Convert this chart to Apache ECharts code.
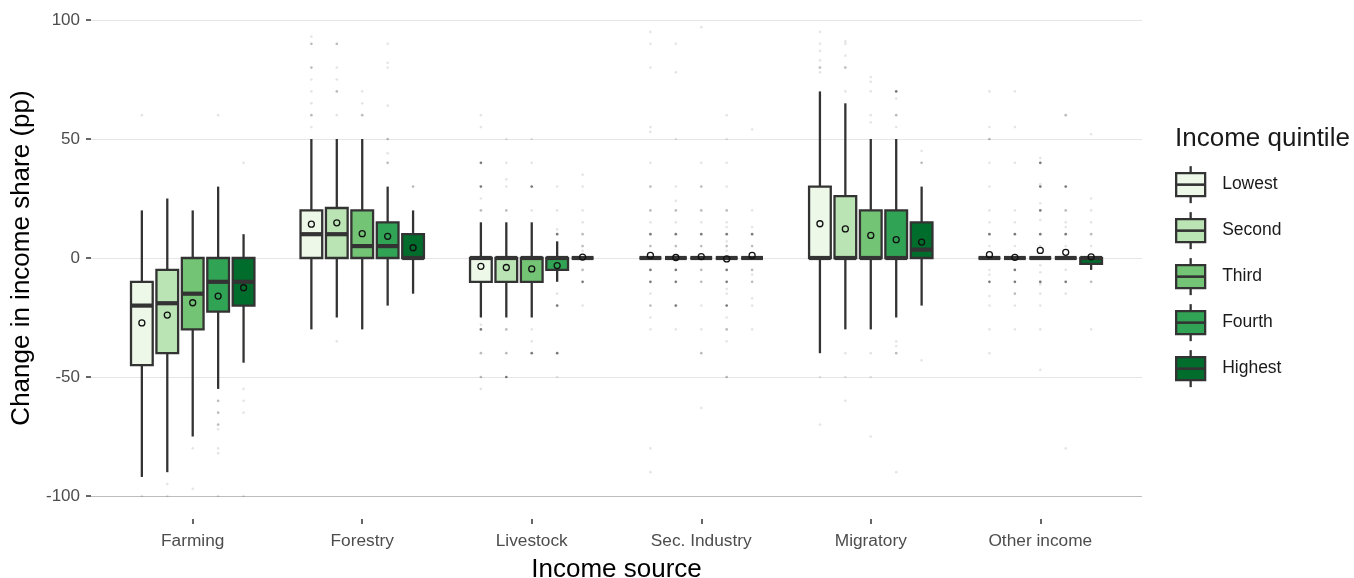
<!DOCTYPE html>
<html>
<head>
<meta charset="utf-8">
<script src="https://cdn.jsdelivr.net/npm/echarts@6/dist/echarts.min.js"></script>
<style>html,body{margin:0;padding:0;background:#fff}#c{width:1354px;height:578px}</style>
</head>
<body>
<div id="c"></div>
<script>
// ---- data ----
const categories = ['Farming', 'Forestry', 'Livestock', 'Sec. Industry', 'Migratory', 'Other income'];
const quintiles = ['Lowest', 'Second', 'Third', 'Fourth', 'Highest'];
const colors = ['#edf8e9', '#bae4b3', '#74c476', '#31a354', '#006d2c'];
const yMajorTicks = [-100, -50, 0, 50, 100];

// per category: [lowerWhisker, q1, median, q3, upperWhisker, mean]
const lowest = [
  [-92, -45, -20, -10, 20, -27.3],
  [-30, 0, 10, 20, 50, 14.2],
  [-25, -10, 0, 0, 15, -3.5],
  [0, 0, 0, 0, 0, 1.1],
  [-40, 0, 0, 30, 70, 14.4],
  [0, 0, 0, 0, 0, 1.4]
];
const second = [
  [-90, -40, -19, -5, 25, -24],
  [-25, 0, 10, 21, 50, 14.8],
  [-25, -10, 0, 0, 15, -4],
  [0, 0, 0, 0, 0, 0.2],
  [-30, 0, 0, 26, 65, 12.2],
  [0, 0, 0, 0, 0, 0.3]
];
const third = [
  [-75, -30, -15, 0, 20, -18.8],
  [-30, 0, 5, 20, 50, 10.2],
  [-25, -10, 0, 0, 15, -4.6],
  [0, 0, 0, 0, 0, 0.6],
  [-30, 0, 0, 20, 50, 9.5],
  [0, 0, 0, 0, 0, 3.2]
];
const fourth = [
  [-55, -22.5, -10, 0, 30, -16],
  [-20, 0, 5, 15, 30, 9.1],
  [-10, -5, 0, 0, 7, -3.2],
  [0, 0, 0, 0, 0, -0.4],
  [-25, 0, 0, 20, 50, 7.7],
  [0, 0, 0, 0, 0, 2.4]
];
const highest = [
  [-44, -20, -10, 0, 10, -12.5],
  [-15, 0, 0, 10, 20, 4.3],
  [0, 0, 0, 0, 0, 0.4],
  [0, 0, 0, 0, 0, 1.1],
  [-20, 0, 3.5, 15, 30, 6.7],
  [-5, -2.5, 0, 0, 0, 0.5]
];

// outliers per category: [quintileIndex, value, density(1 faint .. 3 dark)]
const farmingOut = [
  [0,60,1],[0,-100,1],
  [1,-95,1],[1,-100,1],
  [2,-80,1],[2,-97,1],
  [3,60,1],[3,-60,2],[3,-65,2],[3,-70,2],[3,-72,1],[3,-80,1],[3,-82,1],[3,-100,1],
  [4,40,1],[4,-55,1],[4,-60,1],[4,-65,1],[4,-100,1]
];
const forestryOut = [
  [0,93,1],[0,90,2],[0,80,2],[0,75,1],[0,70,1],[0,65,1],[0,60,2],[0,55,1],
  [1,90,2],[1,80,1],[1,75,1],[1,70,2],[1,60,1],[1,-35,1],
  [2,70,1],[2,65,1],[2,60,2],
  [3,90,1],[3,82,1],[3,80,1],[3,64,1],[3,50,2],[3,44,1],[3,40,2],
  [4,30,2]
];
const livestockOut = [
  [0,60,1],[0,55,1],[0,40,3],[0,30,3],[0,25,1],[0,20,2],[0,-28,1],[0,-30,3],[0,-40,2],[0,-50,2],[0,-55,1],
  [1,50,1],[1,40,1],[1,33,1],[1,30,1],[1,20,2],[1,-30,2],[1,-40,2],[1,-50,3],
  [2,50,1],[2,40,1],[2,30,3],[2,20,1],[2,-30,1],[2,-35,1],[2,-40,3],
  [3,30,1],[3,20,1],[3,12,1],[3,10,3],[3,-15,1],[3,-20,3],[3,-40,3],[3,-50,1],
  [4,35,1],[4,30,1],[4,20,1],[4,15,1],[4,10,2],[4,5,2],[4,3,1],[4,-5,2],[4,-10,3],[4,-20,1]
];
const secIndustryOut = [
  [0,95,1],[0,90,1],[0,80,1],[0,55,1],[0,53,1],[0,40,1],[0,30,2],[0,20,2],[0,15,1],[0,10,3],[0,5,2],[0,-5,3],[0,-10,3],[0,-15,1],[0,-20,2],[0,-25,1],[0,-30,1],[0,-80,1],[0,-90,1],
  [1,90,1],[1,78,1],[1,50,1],[1,30,1],[1,24,1],[1,20,2],[1,15,1],[1,10,3],[1,5,2],[1,-5,3],[1,-10,3],[1,-20,3],[1,-30,1],
  [2,97,1],[2,40,1],[2,30,2],[2,20,2],[2,15,1],[2,10,3],[2,5,2],[2,-5,2],[2,-10,2],[2,-20,1],[2,-30,1],[2,-40,2],[2,-63,1],
  [3,60,1],[3,50,1],[3,40,1],[3,30,1],[3,20,2],[3,15,1],[3,13,1],[3,10,3],[3,7,1],[3,5,2],[3,3,1],[3,-5,3],[3,-10,3],[3,-13,1],[3,-15,1],[3,-20,3],[3,-25,1],[3,-30,2],[3,-35,1],[3,-50,2],
  [4,54,1],[4,20,1],[4,13,1],[4,10,3],[4,5,2],[4,-5,2],[4,-7,1],[4,-10,2],[4,-17,1],[4,-20,1],[4,-30,1]
];
const migratoryOut = [
  [0,95,1],[0,90,1],[0,87,1],[0,83,1],[0,80,2],[0,78,1],[0,-50,1],[0,-70,1],
  [1,91,1],[1,90,1],[1,85,1],[1,80,2],[1,70,1],[1,-40,1],[1,-50,1],[1,-60,1],
  [2,76,1],[2,74,1],[2,70,1],[2,60,1],[2,57,1],[2,-40,1],[2,-50,1],[2,-75,1],
  [3,70,3],[3,67,1],[3,60,2],[3,55,1],[3,-35,1],[3,-37,1],[3,-40,2],[3,-90,1],
  [4,45,1],[4,40,2],[4,-43,1]
];
const otherOut = [
  [0,70,1],[0,55,1],[0,50,2],[0,40,1],[0,30,1],[0,20,1],[0,15,1],[0,10,3],[0,5,1],[0,-5,1],[0,-7,1],[0,-10,3],[0,-16,1],[0,-20,1],[0,-30,1],[0,-40,1],
  [1,70,1],[1,55,1],[1,40,1],[1,20,1],[1,15,1],[1,10,3],[1,5,1],[1,-5,3],[1,-10,3],[1,-15,2],[1,-20,1],[1,-30,1],
  [2,42,1],[2,40,3],[2,31,1],[2,30,3],[2,23,1],[2,20,3],[2,16,1],[2,10,3],[2,5,1],[2,-3,1],[2,-6,1],[2,-10,3],[2,-11,1],[2,-15,1],[2,-20,1],[2,-30,1],[2,-47,1],
  [3,60,2],[3,30,3],[3,20,2],[3,15,1],[3,13,1],[3,10,3],[3,5,1],[3,-5,1],[3,-10,3],[3,-15,1],[3,-80,1],
  [4,52,1],[4,25,1],[4,20,1],[4,15,1],[4,10,2],[4,5,1],[4,-10,2],[4,-30,1]
];

// ---- build ----
const stats = [lowest, second, third, fourth, highest];
const outliers = [farmingOut, forestryOut, livestockOut, secIndustryOut, migratoryOut, otherOut];
const dodge = [-0.3, -0.15, 0, 0.15, 0.3];
const boxHalf = 0.064;
const FONT = '"Liberation Sans", Arial, sans-serif';
const STROKE = '#333333';
const BORDER = 2.3;

function makeRender(qi) {
  return function (params, api) {
    const xc = api.value(0) + dodge[qi];
    const xl = api.coord([xc - boxHalf, 0])[0];
    const xr = api.coord([xc + boxHalf, 0])[0];
    const xm = api.coord([xc, 0])[0];
    const Y = i => api.coord([xc, api.value(i)])[1];
    const low = Y(1), q1 = Y(2), med = Y(3), q3 = Y(4), high = Y(5), mean = Y(6);
    return {
      type: 'group',
      children: [
        { type: 'line', shape: { x1: xm, y1: high, x2: xm, y2: q3 }, style: { stroke: STROKE, lineWidth: BORDER } },
        { type: 'line', shape: { x1: xm, y1: q1, x2: xm, y2: low }, style: { stroke: STROKE, lineWidth: BORDER } },
        { type: 'rect', shape: { x: xl, y: q3, width: xr - xl, height: q1 - q3 },
          style: { fill: colors[qi], stroke: STROKE, lineWidth: BORDER } },
        { type: 'line', shape: { x1: xl, y1: med, x2: xr, y2: med }, style: { stroke: STROKE, lineWidth: 4.2 } },
        { type: 'circle', shape: { cx: xm, cy: mean, r: 3 }, style: { fill: 'none', stroke: '#111', lineWidth: 1.3 } }
      ]
    };
  };
}

const series = [];
const outData = [];
outliers.forEach((list, ci) => list.forEach(o => outData.push([ci + dodge[o[0]], o[1], o[2]])));
series.push({
  type: 'scatter', name: 'outliers', data: outData, symbolSize: 2.7, z: 1, clip: false, silent: true,
  itemStyle: { color: p => 'rgba(0,0,0,' + [0.13, 0.33, 0.65][p.data[2] - 1] + ')' }
});
quintiles.forEach((q, qi) => {
  series.push({
    type: 'custom', name: q, z: 2,
    itemStyle: { color: colors[qi] },
    data: stats[qi].map((s, ci) => [ci].concat(s)),
    encode: { x: 0, y: [1, 2, 3, 4, 5] },
    renderItem: makeRender(qi)
  });
});

// legend key decorations (whiskers + median)
const LEG_LEFT = 1175, LEG_TOP = 172, KEY_W = 29, KEY_H = 23, PITCH = 46;
const legendDeco = [];
quintiles.forEach((q, i) => {
  const y0 = LEG_TOP + BORDER / 2 + i * PITCH, xm = LEG_LEFT + BORDER / 2 + KEY_W / 2;
  legendDeco.push({ type: 'line', z: 100, shape: { x1: xm, y1: y0 - 7, x2: xm, y2: y0 }, style: { stroke: STROKE, lineWidth: BORDER } });
  legendDeco.push({ type: 'line', z: 100, shape: { x1: xm, y1: y0 + KEY_H, x2: xm, y2: y0 + KEY_H + 7 }, style: { stroke: STROKE, lineWidth: BORDER } });
  legendDeco.push({ type: 'line', z: 100, shape: { x1: xm - KEY_W / 2, y1: y0 + KEY_H / 2, x2: xm + KEY_W / 2, y2: y0 + KEY_H / 2 }, style: { stroke: STROKE, lineWidth: 2.6 } });
});

const chart = echarts.init(document.getElementById('c'), null, { renderer: 'canvas' });
chart.setOption({
  animation: false,
  backgroundColor: '#ffffff',
  textStyle: { fontFamily: FONT },
  grid: { left: 91, right: 212, top: 20, bottom: 82, containLabel: false, outerBoundsMode: 'none' },
  title: {
    text: 'Income quintile', left: 1170, top: 121,
    textStyle: { fontFamily: FONT, fontSize: 26, fontWeight: 'normal', color: '#1a1a1a' }
  },
  legend: {
    data: quintiles, orient: 'vertical', left: LEG_LEFT, top: LEG_TOP, padding: 0,
    itemWidth: KEY_W, itemHeight: KEY_H, itemGap: PITCH - KEY_H - BORDER, icon: 'rect',
    itemStyle: { borderColor: STROKE, borderWidth: BORDER },
    textStyle: { fontFamily: FONT, fontSize: 17.5, color: '#1a1a1a', padding: [0, 0, 0, 12] },
    selectedMode: false
  },
  xAxis: {
    type: 'value', min: -0.6, max: 5.6, offset: 23,
    name: 'Income source', nameLocation: 'middle', nameGap: 38,
    nameTextStyle: { fontFamily: FONT, fontSize: 26, color: '#000' },
    axisLine: { show: false, onZero: false },
    splitLine: { show: false },
    axisTick: { show: true, customValues: [0, 1, 2, 3, 4, 5], length: 5, lineStyle: { color: '#333', width: 1.5 } },
    axisLabel: {
      customValues: [0, 1, 2, 3, 4, 5], margin: 14,
      formatter: v => categories[Math.round(v)],
      fontFamily: FONT, fontSize: 17.3, color: '#4d4d4d'
    }
  },
  yAxis: {
    type: 'value', min: -100, max: 100, interval: 10,
    name: 'Change in income share (pp)', nameLocation: 'middle', nameGap: 53, nameRotate: 90,
    nameTextStyle: { fontFamily: FONT, fontSize: 26, color: '#000' },
    axisLine: { show: false, onZero: false },
    axisTick: { show: true, customValues: yMajorTicks, length: 5, lineStyle: { color: '#333', width: 1.5 } },
    axisLabel: { customValues: yMajorTicks, margin: 11, fontFamily: FONT, fontSize: 17, color: '#4d4d4d' },
    splitLine: { show: true, lineStyle: { color: ['#bdbdbd', '#e6e6e6', '#e6e6e6', '#e6e6e6', '#e6e6e6'], width: 1.1 } }
  },
  graphic: legendDeco,
  series: series
});
</script>
</body>
</html>
